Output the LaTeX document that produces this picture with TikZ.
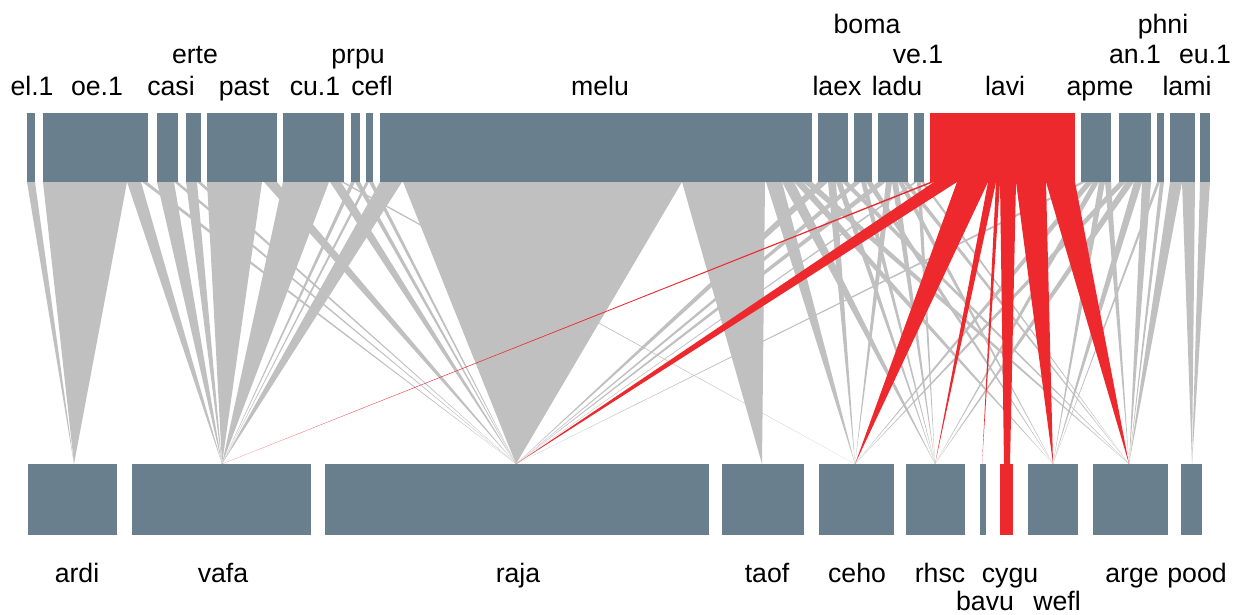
\documentclass[tikz,border=0pt]{standalone}
\usepackage{fontspec}
\setmainfont{Liberation Sans}
\usetikzlibrary{fit}
\definecolor{barc}{RGB}{106,127,142}
\definecolor{lgray}{RGB}{192,192,192}
\definecolor{lred}{RGB}{237,41,46}
\tikzset{
  barbox/.style={inner sep=0pt, outer sep=0pt, fill=barc, draw=none},
  redbox/.style={inner sep=0pt, outer sep=0pt, fill=lred, draw=none},
  lab/.style={anchor=base, inner sep=0pt, font=\fontsize{20}{24}\selectfont},
  glink/.style={fill=lgray},
  rlink/.style={fill=lred}
}
\newcommand{\lk}[4]{\fill[#4] (#1,182) -- (#2,182) -- (#3,464) -- cycle;}
\newcommand{\tbar}[4][barbox]{\node[#1, fit={(#3,113) (#4,182)}] (#2) {};}
\newcommand{\bbar}[4][barbox]{\node[#1, fit={(#3,464) (#4,535)}] (#2) {};}
\begin{document}
\begin{tikzpicture}[x=0.75pt,y=-0.75pt]
\useasboundingbox (0,0) rectangle (1234,614);
% ---- grey links (top segment x1,x2 -> lower apex) ----
\foreach \a/\b/\c in {
 27/35/74,
 43/127/74, 127/141/222, 142/147/516,
 157/174/222, 174/178/516,
 186/197/222, 197/201/516,
 207/262/222, 264/277/516,
 283/329/222, 330/341/516, 341/344/855,
 351/355/222, 355/360/516,
 366/369/222, 369/373/516,
 380/402/222, 403/682/516, 682/765/762, 766/782/855, 782/794/935, 794/803/1053, 803/812/1129,
 818/828/516, 828/836/855, 836/842/935, 842/848/1129,
 854/861/516, 861/866/935, 866/872/1053,
 878/886/516, 886/892/855, 892/898/935, 898/903/1053, 903/908/1129,
 914/917/516, 917/921/935, 921/924/1129,
 1081/1086/516, 1086/1093/855, 1093/1099/935, 1099/1105/1053, 1105/1111/1129,
 1119/1126/855, 1126/1134/935, 1134/1142/1053, 1142/1151/1129,
 1157/1160/1053, 1160/1164/1129,
 1170/1182/1129, 1182/1195/1192,
 1200/1210/1192}
 {\lk{\a}{\b}{\c}{glink}}
% ---- red links from lavi ----
\foreach \a/\b/\c in {
 930/934/222, 934/957/516, 957/988/855, 988/996/935, 996/1000/982,
 1016/1046/1053, 1046/1075/1129}
 {\lk{\a}{\b}{\c}{rlink}}
\fill[rlink] (1000,182) -- (1016,182) -- (1010,464) -- (1004,464) -- cycle;
% ---- top bars ----
\tbar{el1}{27}{35}
\tbar{oe1}{43}{148}
\tbar{casi}{157}{178}
\tbar{erte}{186}{201}
\tbar{past}{207}{277}
\tbar{cu1}{283}{344}
\tbar{prpu}{351}{360}
\tbar{cefl}{366}{373}
\tbar{melu}{380}{812}
\tbar{laex}{818}{848}
\tbar{boma}{854}{872}
\tbar{ladu}{878}{908}
\tbar{ve1}{914}{924}
\tbar[redbox]{lavi}{930}{1075}
\tbar{apme}{1081}{1111}
\tbar{an1}{1119}{1151}
\tbar{phni}{1157}{1164}
\tbar{lami}{1170}{1195}
\tbar{eu1}{1200}{1210}
% ---- bottom bars ----
\bbar{ardi}{28}{117}
\bbar{vafa}{132}{311}
\bbar{raja}{325}{709}
\bbar{taof}{722}{804}
\bbar{ceho}{819}{894}
\bbar{rhsc}{906}{965}
\bbar{bavu}{980}{986}
\bbar[redbox]{cygu}{1000}{1013}
\bbar{wefl}{1028}{1078}
\bbar{arge}{1093}{1168}
\bbar{pood}{1181}{1202}
% ---- top labels ----
\node[lab] (tel1) at (32,95) {el.1};
\node[lab] (toe1) at (97,95) {oe.1};
\node[lab] (tcasi) at (171,95) {casi};
\node[lab] (tpast) at (244,95) {past};
\node[lab] (tcu1) at (315,95) {cu.1};
\node[lab] (tcefl) at (372,95) {cefl};
\node[lab] (tmelu) at (600,95) {melu};
\node[lab] (tlaex) at (837,95) {laex};
\node[lab] (tladu) at (897,95) {ladu};
\node[lab] (tlavi) at (1005,95) {lavi};
\node[lab] (tapme) at (1100,95) {apme};
\node[lab] (tlami) at (1187,95) {lami};
\node[lab] (terte) at (195,63) {erte};
\node[lab] (tprpu) at (358,63) {prpu};
\node[lab] (tve1) at (918,63) {ve.1};
\node[lab] (tan1) at (1135,63) {an.1};
\node[lab] (teu1) at (1205,63) {eu.1};
\node[lab] (tboma) at (867,33) {boma};
\node[lab] (tphni) at (1163,33) {phni};
% ---- bottom labels ----
\node[lab] (lardi) at (77,582) {ardi};
\node[lab] (lvafa) at (223,582) {vafa};
\node[lab] (lraja) at (518,582) {raja};
\node[lab] (ltaof) at (767,582) {taof};
\node[lab] (lceho) at (857,582) {ceho};
\node[lab] (lrhsc) at (940,582) {rhsc};
\node[lab] (lcygu) at (1010,582) {cygu};
\node[lab] (large) at (1132,582) {arge};
\node[lab] (lpood) at (1197,582) {pood};
\node[lab] (lbavu) at (985,610) {bavu};
\node[lab] (lwefl) at (1057,610) {wefl};
\end{tikzpicture}
\end{document}
